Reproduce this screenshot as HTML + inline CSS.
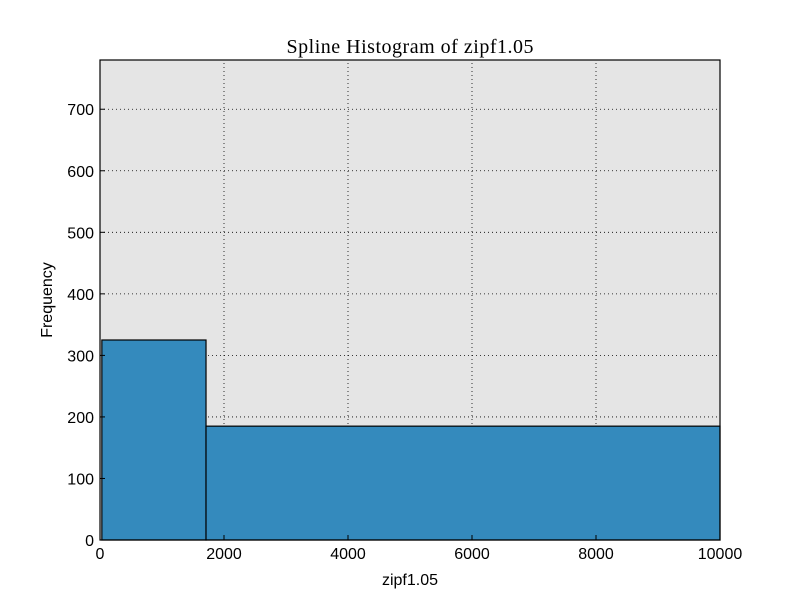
<!DOCTYPE html>
<html><head><meta charset="utf-8"><style>
body{margin:0;background:#fff;}
svg text{font-family:"Liberation Sans",sans-serif;}
</style></head><body>
<svg id="chart" width="800" height="600" xmlns="http://www.w3.org/2000/svg">
<rect x="0" y="0" width="800" height="600" fill="#fff"/>
<rect x="100" y="60" width="620" height="480" fill="#e5e5e5"/>
<g id="grid"></g>
<g id="bars"></g>
<rect x="100" y="60" width="620" height="480" fill="none" stroke="#000" stroke-width="1.2"/>
<g id="ticks"></g>
<text x="410" y="53" text-anchor="middle" font-size="20" textLength="247" style="font-family:'Liberation Serif',serif">Spline Histogram of zipf1.05</text>
<text x="410" y="585" text-anchor="middle" font-size="16">zipf1.05</text>
<text x="52" y="300" text-anchor="middle" font-size="16" transform="rotate(-90 52 300)">Frequency</text>
</svg>
<script>
const binEdges=[30,1710,10000];
const counts=[325,185];
const xTicks=[0,2000,4000,6000,8000,10000];
const yTicks=[0,100,200,300,400,500,600,700];
const X0=100,X1=720,Y0=540,Y1=60,xMax=10000,yMax=780;
function sx(v){return X0+(X1-X0)*v/xMax;}
function sy(v){return Y0-(Y0-Y1)*v/yMax;}
const NS="http://www.w3.org/2000/svg";
const grid=document.getElementById('grid'),bars=document.getElementById('bars'),ticks=document.getElementById('ticks');
function mk(tag,attrs,parent){const e=document.createElementNS(NS,tag);for(const k in attrs)e.setAttribute(k,attrs[k]);parent.appendChild(e);return e;}
xTicks.forEach(t=>{
  const g=mk('line',{x1:sx(t),x2:sx(t),y1:Y0,y2:Y1,stroke:'#000','stroke-width':0.8,'stroke-dasharray':'1,3'},grid);
  
  
  const tk=mk('line',{x1:sx(t),x2:sx(t),y1:Y0,y2:Y0-5,stroke:'#000'},ticks);
  
  
  const tx=mk('text',{x:sx(t),y:Y0+19,'text-anchor':'middle','font-size':16},ticks);
  tx.textContent=t;
  
  
});
yTicks.forEach(t=>{
  const g=mk('line',{x1:X0,x2:X1,y1:sy(t),y2:sy(t),stroke:'#000','stroke-width':0.8,'stroke-dasharray':'1,3'},grid);
  
  
  const tk=mk('line',{x1:X0,x2:X0+5,y1:sy(t),y2:sy(t),stroke:'#000'},ticks);
  
  
  const tx=mk('text',{x:X0-6,y:sy(t)+6,'text-anchor':'end','font-size':16},ticks);
  tx.textContent=t;
  
  
});
counts.forEach((c,i)=>{
  const x=sx(binEdges[i]),w=sx(binEdges[i+1])-x;
  const r=mk('rect',{x:x,y:sy(c),width:w,height:Y0-sy(c),fill:'#348abd',stroke:'#000','stroke-width':1.2},bars);
  
  
});
</script>
</body></html>
